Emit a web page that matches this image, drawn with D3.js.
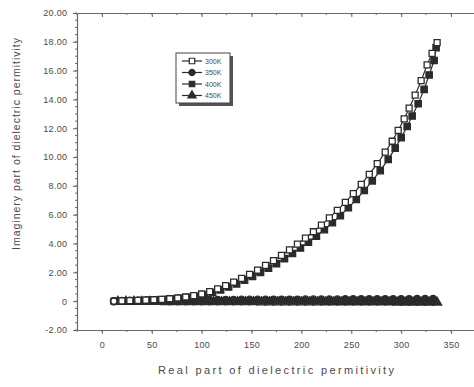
<!DOCTYPE html>
<html>
<head>
<meta charset="utf-8">
<script src="https://cdn.jsdelivr.net/npm/d3@7"></script>
<style>
  html, body { margin: 0; padding: 0; background: #fff; }
  svg { display: block; font-family: Arial, "Liberation Sans", sans-serif; }
</style>
</head>
<body>
<svg id="chart" width="474" height="387"></svg>
<script>
// Cole-Cole plot: imaginary vs real part of dielectric permittivity
const seriesNames = ["300K", "350K", "400K", "450K"];

// 300K – open squares, rising branch
const realA = [12,20,28,36,44,52,60,68,76,84,92,100,108,116,124,132,140,148,156,164,172,180,188,196,204,212,220,228,236,244,252,260,268,276,284,291,297,303,308,314,320,326,331,336];
const imagA = [0.00,0.02,0.04,0.06,0.08,0.10,0.13,0.17,0.22,0.29,0.38,0.50,0.66,0.86,1.08,1.32,1.58,1.86,2.16,2.48,2.82,3.18,3.56,3.96,4.38,4.82,5.28,5.78,6.30,6.86,7.46,8.10,8.80,9.54,10.34,11.10,11.85,12.65,13.40,14.30,15.30,16.40,17.20,17.95];

// 350K – filled circles, flat branch
const realB = [12,20,28,36,44,52,60,68,76,84,92,100,108,116,124,132,140,148,156,164,172,180,188,196,204,212,220,228,236,244,252,260,268,276,284,292,300,308,316,324,332];
const imagB = [0.00,0.02,0.03,0.04,0.05,0.05,0.06,0.06,0.07,0.07,0.08,0.08,0.08,0.09,0.09,0.09,0.10,0.10,0.10,0.10,0.11,0.11,0.11,0.11,0.12,0.12,0.12,0.12,0.12,0.13,0.13,0.13,0.13,0.13,0.14,0.14,0.14,0.14,0.15,0.15,0.15];

// 400K – filled squares, rising branch
const realC = [15,23,31,39,47,55,63,71,79,87,95,103,111,119,127,135,143,151,159,167,175,183,191,199,207,215,223,231,239,247,255,263,271,279,287,294,300,306,311,317,323,328,333,335];
const imagC = [0.00,0.01,0.03,0.05,0.07,0.09,0.12,0.15,0.20,0.26,0.34,0.45,0.60,0.78,0.98,1.20,1.45,1.71,1.99,2.29,2.61,2.95,3.31,3.69,4.09,4.51,4.96,5.44,5.94,6.48,7.06,7.68,8.35,9.06,9.84,10.62,11.35,12.12,12.85,13.70,14.70,15.70,16.70,17.60];

// 450K – open triangles, flat branch
const realD = [16,24,32,40,48,56,64,72,80,88,96,104,112,120,128,136,144,152,160,168,176,184,192,200,208,216,224,232,240,248,256,264,272,280,288,296,304,312,320,328,336];
const imagD = [-0.02,-0.03,-0.03,-0.04,-0.04,-0.04,-0.05,-0.05,-0.05,-0.05,-0.05,-0.06,-0.06,-0.06,-0.06,-0.06,-0.06,-0.06,-0.07,-0.07,-0.07,-0.07,-0.07,-0.07,-0.07,-0.07,-0.08,-0.08,-0.08,-0.08,-0.08,-0.08,-0.08,-0.08,-0.08,-0.09,-0.09,-0.09,-0.09,-0.09,-0.09];

const xTickValues = [0,50,100,150,200,250,300,350];
const xTickLabels = ["0","50","100","150","200","250","300","350"];
const yTickValues = [-2,0,2,4,6,8,10,12,14,16,18,20];
const yTickLabels = ["-2.00","0","2.00","4.00","6.00","8.00","10.00","12.00","14.00","16.00","18.00","20.00"];

const svg = d3.select("#chart");
const plotLeft = 77, plotRight = 476, plotTop = 13, plotBottom = 330;

const x = d3.scaleLinear().domain([-25, 375]).range([plotLeft, plotRight]);
const y = d3.scaleLinear().domain([-2, 20]).range([plotBottom, plotTop]);

const axisColor = "#6a6a6a";
const textColor = "#4a4a4a";

// minor ticks
const xMinor = d3.range(-25, 376, 25);
const yMinor = d3.range(-2, 20.01, 0.5);

// bottom axis
const gx = svg.append("g").attr("transform", `translate(0,${plotBottom})`)
  .call(d3.axisBottom(x).tickValues(xTickValues).tickFormat((d, i) => xTickLabels[i]).tickSize(4).tickSizeOuter(0));
gx.append("g").selectAll("line").data(xMinor).join("line")
  .attr("x1", d => x(d)).attr("x2", d => x(d)).attr("y1", 0).attr("y2", 2);

// top axis (ticks inward)
const gt = svg.append("g").attr("transform", `translate(0,${plotTop})`)
  .call(d3.axisTop(x).tickValues(xTickValues).tickFormat("").tickSize(-4).tickSizeOuter(0));
gt.append("g").selectAll("line").data(xMinor).join("line")
  .attr("x1", d => x(d)).attr("x2", d => x(d)).attr("y1", 0).attr("y2", 2);

// left axis
const gy = svg.append("g").attr("transform", `translate(${plotLeft},0)`)
  .call(d3.axisLeft(y).tickValues(yTickValues).tickFormat((d, i) => yTickLabels[i]).tickSize(4).tickSizeOuter(0));
gy.append("g").selectAll("line").data(yMinor).join("line")
  .attr("x1", 0).attr("x2", -2).attr("y1", d => y(d)).attr("y2", d => y(d));

[gx, gt, gy].forEach(g => {
  g.selectAll("path.domain").attr("stroke", axisColor).attr("stroke-width", 1.2);
  g.selectAll("line").attr("stroke", axisColor).attr("stroke-width", 1);
  g.selectAll("text").attr("fill", textColor).attr("font-size", 9).attr("letter-spacing", 0.3);
});
gx.selectAll(".tick text").attr("dy", "1.2em");
gy.selectAll(".tick text").attr("dx", "-0.3em");

// axis titles
svg.append("text")
  .attr("x", 276).attr("y", 374).attr("text-anchor", "middle")
  .attr("font-size", 11).attr("fill", textColor)
  .attr("textLength", 236).attr("lengthAdjust", "spacing")
  .text("Real part of dielectric permitivity");

svg.append("text")
  .attr("transform", "translate(20,144) rotate(-90)")
  .attr("text-anchor", "middle")
  .attr("font-size", 10.5).attr("fill", textColor)
  .attr("textLength", 212).attr("lengthAdjust", "spacing")
  .text("Imaginery part of dielectric permitivity");

// series
const ink = "#2b2b2b";
const series = [
  { name: seriesNames[0], re: realA, im: imagA, shape: d3.symbolSquare, fill: "#fff", size: 36 },
  { name: seriesNames[1], re: realB, im: imagB, shape: d3.symbolCircle, fill: ink, size: 40 },
  { name: seriesNames[2], re: realC, im: imagC, shape: d3.symbolSquare, fill: ink, size: 40 },
  { name: seriesNames[3], re: realD, im: imagD, shape: d3.symbolTriangle, fill: ink, size: 36 }
];

const line = d3.line().x(d => x(d[0])).y(d => y(d[1]));
const plot = svg.append("g");
const drawOrder = [1, 3, 2, 0];
drawOrder.forEach(k => {
  const s = series[k];
  const pts = s.re.map((r, i) => [r, s.im[i]]);
  plot.append("path").datum(pts).attr("d", line)
    .attr("fill", "none").attr("stroke", ink).attr("stroke-width", 1.2);
  plot.append("g").selectAll("path").data(pts).join("path")
    .attr("transform", d => `translate(${x(d[0])},${y(d[1])})`)
    .attr("d", d3.symbol().type(s.shape).size(s.size))
    .attr("fill", s.fill).attr("stroke", ink).attr("stroke-width", 1.3);
});

// first point of the flat branch drawn open
plot.append("circle")
  .attr("cx", x(realB[0])).attr("cy", y(imagB[0])).attr("r", 3.2)
  .attr("fill", "#fff").attr("stroke", ink).attr("stroke-width", 1.5);

// legend
const lg = svg.append("g").attr("transform", "translate(176,53)");
lg.append("rect").attr("x", 3).attr("y", 3).attr("width", 54).attr("height", 50).attr("fill", "#555");
lg.append("rect").attr("x", 0).attr("y", 0).attr("width", 54).attr("height", 50)
  .attr("fill", "#fff").attr("stroke", "#444").attr("stroke-width", 1);
series.forEach((s, i) => {
  const yy = 8 + i * 11.5;
  lg.append("line").attr("x1", 6).attr("x2", 26).attr("y1", yy).attr("y2", yy)
    .attr("stroke", ink).attr("stroke-width", 1.2);
  lg.append("path").attr("transform", `translate(16,${yy})`)
    .attr("d", d3.symbol().type(s.shape).size(30))
    .attr("fill", s.fill).attr("stroke", ink).attr("stroke-width", 1.2);
  lg.append("text").attr("x", 29).attr("y", yy + 2.5)
    .attr("font-size", 7).attr("fill", textColor).text(s.name);
});
</script>
</body>
</html>
